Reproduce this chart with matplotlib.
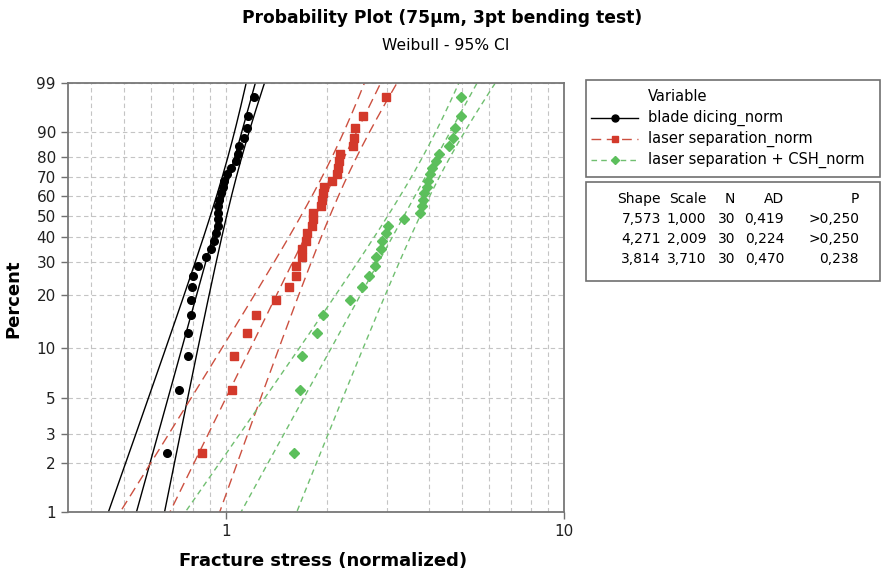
import numpy as np
import matplotlib
matplotlib.use("Agg")
import matplotlib.pyplot as plt
from matplotlib.lines import Line2D
from matplotlib.patches import Rectangle

# fracture stress (normalized), sorted, 30 samples each
blade = [0.669, 0.726, 0.775, 0.775, 0.790, 0.791, 0.797, 0.802, 0.826, 0.873,
         0.905, 0.923, 0.936, 0.947, 0.949, 0.951, 0.951, 0.955, 0.966, 0.980,
         0.988, 1.007, 1.039, 1.073, 1.085, 1.093, 1.135, 1.154, 1.162, 1.215]
laser = [0.851, 1.046, 1.058, 1.154, 1.227, 1.411, 1.536, 1.618, 1.620, 1.678,
         1.678, 1.732, 1.736, 1.804, 1.809, 1.816, 1.910, 1.923, 1.945, 1.954,
         2.059, 2.131, 2.145, 2.160, 2.182, 2.385, 2.393, 2.418, 2.557, 2.971]
laser_csh = [1.589, 1.663, 1.685, 1.858, 1.941, 2.327, 2.531, 2.649, 2.771, 2.785,
             2.875, 2.906, 2.974, 3.027, 3.362, 3.757, 3.809, 3.826, 3.868, 3.932,
             3.975, 4.021, 4.085, 4.181, 4.276, 4.569, 4.695, 4.760, 4.959, 4.969]

# plotting positions (median ranks), percent
pct = [2.30, 5.59, 8.88, 12.17, 15.46, 18.75, 22.04, 25.33, 28.62, 31.91,
       35.20, 38.49, 41.78, 45.07, 48.36, 51.64, 54.93, 58.22, 61.51, 64.80,
       68.09, 71.38, 74.67, 77.96, 81.25, 84.54, 87.83, 91.12, 94.41, 97.70]

labels = ["blade dicing_norm", "laser separation_norm", "laser separation + CSH_norm"]
shape = [7.573, 4.271, 3.814]
scale = [1.000, 2.009, 3.710]
n_obs = [30, 30, 30]
shape_txt = ["7,573", "4,271", "3,814"]
scale_txt = ["1,000", "2,009", "3,710"]
ad_txt = ["0,419", "0,224", "0,470"]
p_txt = [">0,250", ">0,250", "0,238"]

yticks = [1, 2, 3, 5, 10, 20, 30, 40, 50, 60, 70, 80, 90, 99]

colors = ["black", "#d3392b", "#5cbf5c"]
line_colors = ["black", "#cc5040", "#70bf70"]
markers = ["o", "s", "D"]
msizes = [5.5, 5.5, 5]
dashes = [None, (7, 4), (4, 3)]


def weib(p):
    p = np.clip(np.asarray(p, dtype=float), 1e-9, 100 - 1e-9)
    return np.log(-np.log(1 - p / 100))


def weib_inv(w):
    return 100 * (1 - np.exp(-np.exp(w)))


fig = plt.figure(figsize=(8.84, 5.73), dpi=100)
W, H = 884, 573
ax = fig.add_axes([67.7 / W, 1 - 512 / H, (563.7 - 67.7) / W, (512 - 83.3) / H])
ax.set_xscale("log")
ax.set_yscale("function", functions=(weib, weib_inv))
ax.set_xlim(0.341, 10)
ax.set_ylim(1, 99)

# fitted line + 95% CI (normal approx on log percentile)
w = np.linspace(weib(0.3), weib(99.95), 300)
for k in range(3):
    b = 1 / shape[k]
    xf = scale[k] * np.exp(w * b)
    var = b ** 2 / n_obs[k] * (1.1087 - 2 * 0.2570 * w + 0.6079 * w ** 2)
    half = 1.96 * np.sqrt(var)
    for xx in (xf, xf * np.exp(-half), xf * np.exp(half)):
        ln, = ax.plot(xx, weib_inv(w), color=line_colors[k], lw=1.0, zorder=2)
        if dashes[k]:
            ln.set_dashes(dashes[k])

for k, data in enumerate([blade, laser, laser_csh]):
    ax.plot(data, pct, ls="none", marker=markers[k], ms=msizes[k],
            color=colors[k], mec=colors[k], zorder=3)

ax.set_yticks(yticks)
ax.set_yticklabels([str(t) for t in yticks])
ax.set_xticks([1, 10])
ax.set_xticklabels(["1", "10"])
ax.set_xticks([0.4, 0.5, 0.6, 0.7, 0.8, 0.9, 2, 3, 4, 5, 6, 7, 8, 9], minor=True)
ax.set_yticks([], minor=True)
ax.xaxis.set_minor_formatter(matplotlib.ticker.NullFormatter())
ax.tick_params(axis="both", which="major", labelsize=11, length=5,
               color="#707070", width=1, labelcolor="#202020")
ax.tick_params(axis="x", which="minor", length=0)
ax.grid(True, which="both", color="#c4c4c4", ls=(0, (4, 3)), lw=0.8, zorder=0)
for s in ax.spines.values():
    s.set_color("#777777")
    s.set_linewidth(1.3)

ax.set_xlabel("Fracture stress (normalized)", fontsize=13, fontweight="bold")
ax.xaxis.set_label_coords(0.515, -0.093)
ax.set_ylabel("Percent", fontsize=13, fontweight="bold")
ax.yaxis.set_label_coords(-0.092, 0.497)

fig.text(442 / W, 1 - 18 / H, "Probability Plot (75µm, 3pt bending test)",
         ha="center", va="center", fontsize=12.3, fontweight="bold")
fig.text(446 / W, 1 - 45 / H, "Weibull - 95% CI", ha="center", va="center", fontsize=11.2)


def fx(px):
    return px / W


def fy(py):
    return 1 - py / H


# legend box and stats table
fig.add_artist(Rectangle((fx(586), fy(177)), fx(880) - fx(586), fy(80) - fy(177),
                         transform=fig.transFigure, fill=False, ec="#707070", lw=1.2))
fig.add_artist(Rectangle((fx(586), fy(281)), fx(880) - fx(586), fy(182) - fy(281),
                         transform=fig.transFigure, fill=False, ec="#707070", lw=1.2))
fig.text(fx(648), fy(97), "Variable", va="center", fontsize=10.5)
rows = [118, 139, 160]
for k in range(3):
    ln = Line2D([fx(591), fx(638)], [fy(rows[k])] * 2, transform=fig.transFigure,
                color=line_colors[k], lw=1.0)
    if dashes[k]:
        ln.set_dashes(dashes[k])
    fig.add_artist(ln)
    fig.add_artist(Line2D([fx(614.5)], [fy(rows[k])], transform=fig.transFigure,
                          marker=markers[k], ms=msizes[k] - 0.5, color=colors[k], ls="none"))
    fig.text(fx(648), fy(rows[k]), labels[k], va="center", fontsize=10.5)

cols = [661, 706, 735, 784, 859]
header = ["Shape", "Scale", "N", "AD", "P"]
for c, h in zip(cols, header):
    fig.text(fx(c), fy(199), h, ha="right", va="center", fontsize=10)
trows = [219, 239, 259]
for k in range(3):
    vals = [shape_txt[k], scale_txt[k], str(n_obs[k]), ad_txt[k], p_txt[k]]
    for c, v in zip(cols, vals):
        fig.text(fx(c), fy(trows[k]), v, ha="right", va="center", fontsize=10)

fig.savefig("out.png", dpi=100)
